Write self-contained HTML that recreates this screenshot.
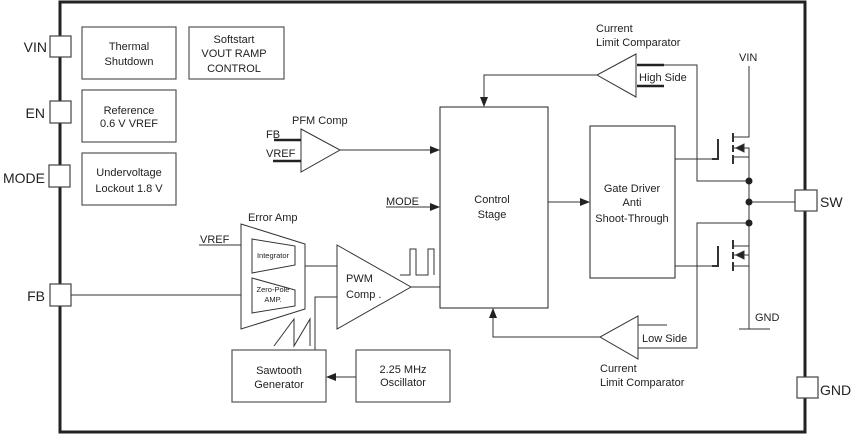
<!DOCTYPE html>
<html><head><style>body{margin:0;background:#fff}svg{display:block}text{font-family:"Liberation Sans",sans-serif;fill:#222}</style></head><body>
<svg width="861" height="434" viewBox="0 0 861 434" xmlns="http://www.w3.org/2000/svg">
<defs><marker id="a" markerWidth="10" markerHeight="8" refX="9" refY="4" orient="auto" markerUnits="userSpaceOnUse"><path d="M0,0L10,4L0,8z" fill="#222"/></marker></defs>
<g fill="none" stroke="#333">
<rect x="60" y="2" width="745" height="430" stroke-width="3" stroke="#222"/>
<g fill="#fff" stroke="#444" stroke-width="1.2">
<rect x="50" y="36" width="21" height="21"/><rect x="50" y="101" width="21" height="22"/><rect x="49" y="165" width="21" height="22"/><rect x="50" y="284" width="21" height="22"/>
<rect x="795" y="190" width="22" height="21"/><rect x="797" y="377" width="21" height="21"/>
</g>
<g stroke="#555" stroke-width="1.2">
<rect x="82" y="27" width="94" height="52"/><rect x="189" y="27" width="95" height="52"/>
<rect x="82" y="90" width="94" height="52"/><rect x="82" y="153" width="94" height="52"/>
<rect x="232" y="350" width="94" height="52"/><rect x="356" y="350" width="94" height="52"/>
</g>
<rect x="440" y="107" width="108" height="201" stroke="#222"/>
<rect x="590" y="126" width="85" height="152" stroke="#222"/>
<path d="M301,129L340,150L301,172z"/>
<path d="M274,140H301M273,161H301" stroke-width="2.5" stroke="#222"/>
<path d="M340,150H439" marker-end="url(#a)"/>
<path d="M386,207H439" marker-end="url(#a)"/>
<path d="M241,224L305,244V309L241,329z"/>
<path d="M252,239L295,246V265L252,273z"/><path d="M252,278L295,290V306L252,313z"/>
<path d="M199,245H241M71,295H241M305,266H337M411,287H440"/>
<path d="M337,245L411,287L337,329z"/>
<path d="M315,350V297H337"/>
<path d="M356,377H327" marker-end="url(#a)"/>
<path d="M274,346L294,319V346L310,319V346"/>
<path d="M400,275H410V249H416V275H428V249H434V275"/>
<path d="M548,202H589" marker-end="url(#a)"/>
<path d="M636,54L597,75L636,97z"/>
<path d="M637,65H664M637,86H664" stroke-width="2.5" stroke="#222"/>
<path d="M664,65H697V181H749"/>
<path d="M597,75H484V106" marker-end="url(#a)"/>
<path d="M638,316L600,337L638,359z"/>
<path d="M638,325H667M638,348H697V223H749"/>
<path d="M600,337H493V309" marker-end="url(#a)"/>
<path d="M749,66V137H733M733,157H749V266H733M749,202H795M749,246H733M749,266V329M739,329H770"/>
<path d="M675,159H712M675,266H712"/>
<path d="M718,139V159H712M718,246V266H712" stroke-width="2"/>
<path d="M733,133V142M733,145V152M733,155V164M733,240V249M733,252V259M733,262V271" stroke-width="2"/>
<path d="M733,148H749V157M733,255H749V246"/>
<path d="M736,148L744,144V152z M736,255L744,251V259z" fill="#222"/>
</g>
<g fill="#222"><circle cx="749" cy="181" r="3.5"/><circle cx="749" cy="202" r="3.5"/><circle cx="749" cy="223" r="3.5"/></g>
<g font-size="14" text-anchor="end"><text x="47" y="52">VIN</text><text x="45" y="118">EN</text><text x="45" y="183">MODE</text><text x="45" y="301">FB</text></g>
<g font-size="14"><text x="820" y="207">SW</text><text x="820" y="395">GND</text></g>
<g font-size="11" text-anchor="middle">
<text x="129" y="50">Thermal</text><text x="129" y="65">Shutdown</text>
<text x="234" y="43">Softstart</text><text x="234" y="57">VOUT RAMP</text><text x="234" y="72">CONTROL</text>
<text x="129" y="114">Reference</text><text x="129" y="127">0.6 V VREF</text>
<text x="129" y="176">Undervoltage</text><text x="129" y="192">Lockout 1.8 V</text>
<text x="279" y="374">Sawtooth</text><text x="279" y="388">Generator</text>
<text x="403" y="373">2.25 MHz</text><text x="403" y="386">Oscillator</text>
<text x="492" y="203">Control</text><text x="492" y="218">Stage</text>
<text x="632" y="192">Gate Driver</text><text x="632" y="206">Anti</text><text x="632" y="222">Shoot-Through</text>
</g>
<g font-size="11">
<text x="292" y="124">PFM Comp</text><text x="266" y="138">FB</text><text x="266" y="157">VREF</text>
<text x="386" y="205">MODE</text><text x="248" y="221">Error Amp</text><text x="200" y="243">VREF</text>
<text x="346" y="282">PWM</text><text x="346" y="298">Comp .</text>
<text x="596" y="32">Current</text><text x="596" y="46">Limit Comparator</text>
<text x="639" y="81">High Side</text><text x="642" y="342">Low Side</text>
<text x="600" y="372">Current</text><text x="600" y="386">Limit Comparator</text>
<text x="739" y="61">VIN</text><text x="755" y="321">GND</text>
</g>
<g font-size="7.5" text-anchor="middle"><text x="273" y="258">Integrator</text><text x="273" y="292">Zero-Pole</text><text x="273" y="302">AMP.</text></g>
</svg></body></html>
